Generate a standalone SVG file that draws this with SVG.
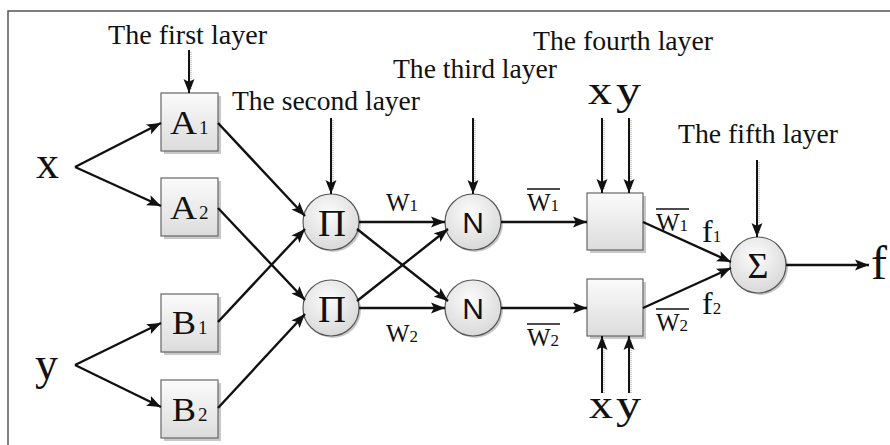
<svg xmlns="http://www.w3.org/2000/svg" width="890" height="445" viewBox="0 0 890 445">
<style>
text{font-family:"Liberation Serif","Times New Roman",serif;fill:#111}
.lay{font-size:27px}
.big{font-size:46px}
.let{font-size:33px}
.sub{font-size:19px}
.w{font-size:25px}
.ws{font-size:17px}
.sans{font-family:"Liberation Sans",Arial,sans-serif}
.box{fill:url(#gb);stroke:#666;stroke-width:1.2}
.cir{fill:url(#gc);stroke:#555;stroke-width:1.2}
.sh{fill:#c8c8c8}
.ln{stroke:#111;stroke-width:2.4;fill:none;marker-end:url(#ah)}
.vl{stroke:#111;stroke-width:2;fill:none;marker-end:url(#ah)}
.vs{stroke:#bbb;stroke-width:1.5;stroke-dasharray:1 1;fill:none}
.bar{stroke:#111;stroke-width:1.3}
</style>
<defs>
<linearGradient id="gb" x1="0" y1="0" x2="0" y2="1"><stop offset="0" stop-color="#fbfbfb"/><stop offset="1" stop-color="#dcdcdc"/></linearGradient>
<radialGradient id="gc" cx="0.45" cy="0.35" r="0.7"><stop offset="0" stop-color="#fcfcfc"/><stop offset="1" stop-color="#d6d6d6"/></radialGradient>
<marker id="ah" markerUnits="userSpaceOnUse" markerWidth="16" markerHeight="12" refX="14" refY="6" orient="auto"><path d="M0,0.5 L14,6 L0,11.5 L3,6 z" fill="#111"/></marker>
</defs>
<rect x="8" y="11" width="900" height="460" fill="none" stroke="#555" stroke-width="1.5"/>

<g id="labels">
<text class="lay" x="108" y="44" textLength="159" lengthAdjust="spacingAndGlyphs">The first layer</text>
<text class="lay" x="232" y="110" textLength="188" lengthAdjust="spacingAndGlyphs">The second layer</text>
<text class="lay" x="393" y="78" textLength="164" lengthAdjust="spacingAndGlyphs">The third layer</text>
<text class="lay" x="533" y="50" textLength="180" lengthAdjust="spacingAndGlyphs">The fourth layer</text>
<text class="lay" x="678" y="143" textLength="160" lengthAdjust="spacingAndGlyphs">The fifth layer</text>
</g>

<g id="in-x"><text class="big" x="36" y="178" textLength="23" lengthAdjust="spacingAndGlyphs">x</text></g>
<g id="in-y"><text class="big" x="35" y="379" textLength="23" lengthAdjust="spacingAndGlyphs">y</text></g>

<g id="A1"><rect class="sh" x="164" y="96" width="57" height="58"/><rect class="box" x="161" y="93" width="57" height="58"/><text class="let" x="170" y="134" textLength="27" lengthAdjust="spacingAndGlyphs">A</text><text class="sub" x="199" y="134">1</text></g>
<g id="A2"><rect class="sh" x="164" y="181" width="57" height="58"/><rect class="box" x="161" y="178" width="57" height="58"/><text class="let" x="170" y="219" textLength="27" lengthAdjust="spacingAndGlyphs">A</text><text class="sub" x="199" y="219">2</text></g>
<g id="B1"><rect class="sh" x="164" y="297" width="57" height="58"/><rect class="box" x="161" y="294" width="57" height="58"/><text class="let" x="172" y="334" textLength="24" lengthAdjust="spacingAndGlyphs">B</text><text class="sub" x="198" y="334">1</text></g>
<g id="B2"><rect class="sh" x="164" y="383" width="57" height="58"/><rect class="box" x="161" y="380" width="57" height="58"/><text class="let" x="172" y="421" textLength="24" lengthAdjust="spacingAndGlyphs">B</text><text class="sub" x="198" y="421">2</text></g>

<g id="P1"><circle class="sh" cx="333" cy="224" r="28"/><circle class="cir" cx="331" cy="222" r="28"/><text x="318" y="236" font-size="38" textLength="28" lengthAdjust="spacingAndGlyphs">Π</text></g>
<g id="P2"><circle class="sh" cx="333" cy="310" r="28"/><circle class="cir" cx="331" cy="308" r="28"/><text x="318" y="322" font-size="38" textLength="28" lengthAdjust="spacingAndGlyphs">Π</text></g>

<g id="N1"><circle class="sh" cx="475" cy="224" r="28"/><circle class="cir" cx="473" cy="222" r="28"/><text class="sans" x="473" y="233" font-size="30" text-anchor="middle">N</text></g>
<g id="N2"><circle class="sh" cx="475" cy="310" r="28"/><circle class="cir" cx="473" cy="308" r="28"/><text class="sans" x="473" y="319" font-size="30" text-anchor="middle">N</text></g>

<g id="C1"><rect class="sh" x="590" y="196" width="56" height="57"/><rect class="box" x="587" y="193" width="56" height="57"/></g>
<g id="C2"><rect class="sh" x="590" y="282" width="56" height="57"/><rect class="box" x="587" y="279" width="56" height="57"/></g>

<g id="S"><circle class="sh" cx="760" cy="267" r="28"/><circle class="cir" cx="758" cy="265" r="28"/><text x="758" y="278" font-size="36" text-anchor="middle">Σ</text></g>

<g id="out-f"><text x="871" y="279" font-size="48">f</text></g>

<g id="xy-top"><text x="588" y="104" font-size="42" textLength="24" lengthAdjust="spacingAndGlyphs">x</text><text x="616" y="104" font-size="42" textLength="25" lengthAdjust="spacingAndGlyphs">y</text></g>
<g id="xy-bottom"><text x="589" y="418" font-size="42" textLength="24" lengthAdjust="spacingAndGlyphs">x</text><text x="616" y="418" font-size="42" textLength="25" lengthAdjust="spacingAndGlyphs">y</text></g>

<g id="weights">
<text x="386" y="211"><tspan class="w">W</tspan><tspan class="ws">1</tspan></text>
<text x="386" y="342"><tspan class="w">W</tspan><tspan class="ws">2</tspan></text>
<text x="527" y="211"><tspan class="w">W</tspan><tspan class="ws">1</tspan></text><line class="bar" x1="527" y1="189" x2="560" y2="189"/>
<text x="527" y="346"><tspan class="w">W</tspan><tspan class="ws">2</tspan></text><line class="bar" x1="527" y1="324" x2="560" y2="324"/>
<text x="656" y="231"><tspan class="w">W</tspan><tspan class="ws">1</tspan></text><line class="bar" x1="656" y1="209" x2="689" y2="209"/>
<text x="656" y="331"><tspan class="w">W</tspan><tspan class="ws">2</tspan></text><line class="bar" x1="656" y1="309" x2="689" y2="309"/>
<text x="702" y="242"><tspan font-size="32">f</tspan><tspan class="ws">1</tspan></text>
<text x="702" y="314"><tspan font-size="32">f</tspan><tspan class="ws">2</tspan></text>
</g>

<g id="connectors">
<line class="vs" x1="191" y1="52" x2="191" y2="90"/>
<line class="vs" x1="333" y1="120" x2="333" y2="190"/>
<line class="vs" x1="475" y1="120" x2="475" y2="190"/>
<line class="vs" x1="604" y1="120" x2="604" y2="190"/>
<line class="vs" x1="631" y1="120" x2="631" y2="190"/>
<line class="vs" x1="604" y1="340" x2="604" y2="393"/>
<line class="vs" x1="631" y1="340" x2="631" y2="393"/>
<line class="vs" x1="759" y1="162" x2="759" y2="234"/>
<line class="vl" x1="189" y1="50" x2="189" y2="93"/>
<line class="vl" x1="331" y1="118" x2="331" y2="194"/>
<line class="vl" x1="473" y1="118" x2="473" y2="194"/>
<line class="vl" x1="602" y1="118" x2="602" y2="193"/>
<line class="vl" x1="629" y1="118" x2="629" y2="193"/>
<line class="vl" x1="602" y1="393" x2="602" y2="336"/>
<line class="vl" x1="629" y1="393" x2="629" y2="336"/>
<line class="vl" x1="757" y1="160" x2="757" y2="237"/>
<line class="ln" x1="75" y1="167" x2="161" y2="123"/>
<line class="ln" x1="75" y1="167" x2="161" y2="206"/>
<line class="ln" x1="75" y1="365" x2="161" y2="323"/>
<line class="ln" x1="75" y1="365" x2="161" y2="407"/>
<line class="ln" x1="218" y1="123" x2="305" y2="216"/>
<line class="ln" x1="218" y1="322" x2="305" y2="229"/>
<line class="ln" x1="218" y1="208" x2="305" y2="300"/>
<line class="ln" x1="218" y1="408" x2="305" y2="314"/>
<line class="ln" x1="359" y1="222" x2="445" y2="222"/>
<line class="ln" x1="359" y1="308" x2="445" y2="308"/>
<line class="ln" x1="357" y1="229" x2="448" y2="301"/>
<line class="ln" x1="357" y1="301" x2="448" y2="229"/>
<line class="ln" x1="501" y1="222" x2="587" y2="222"/>
<line class="ln" x1="501" y1="308" x2="587" y2="308"/>
<line class="ln" x1="643" y1="222" x2="731" y2="262"/>
<line class="ln" x1="643" y1="308" x2="731" y2="268"/>
<line class="ln" x1="786" y1="265" x2="869" y2="265"/>
</g>
</svg>
